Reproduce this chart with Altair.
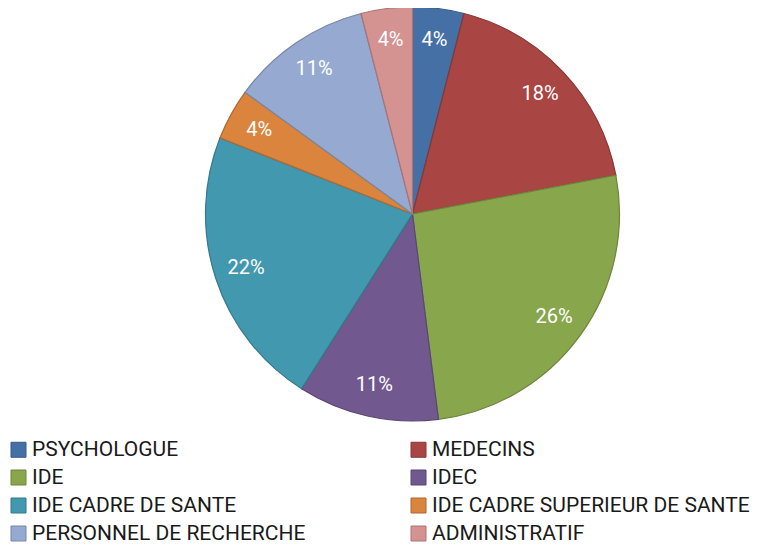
import altair as alt
import pandas as pd

categories = ["PSYCHOLOGUE", "MEDECINS", "IDE", "IDEC", "IDE CADRE DE SANTE",
              "IDE CADRE SUPERIEUR DE SANTE", "PERSONNEL DE RECHERCHE", "ADMINISTRATIF"]
values = [4, 18, 26, 11, 22, 4, 11, 4]
labels = ["4%", "18%", "26%", "11%", "22%", "4%", "11%", "4%"]
fills = ["#4470A6", "#A94543", "#88A64C", "#71598F", "#4198AF", "#DA843E", "#95A9D1", "#D49291"]
strokes = ["#365A86", "#873735", "#6D853D", "#5A4772", "#34798C", "#AE6931", "#7787A7", "#A97474"]

df = pd.DataFrame({"cat": categories, "val": values, "lab": labels,
                   "idx": list(range(len(categories)))})

cx, cy, R = 404.5, 206, 207

base = alt.Chart(df).encode(
    theta=alt.Theta("val:Q", stack=True),
    order=alt.Order("idx:Q"),
)

arcs = base.mark_arc(strokeWidth=1.2).encode(
    x=alt.value(cx), y=alt.value(cy),
    radius=alt.value(R),
    color=alt.Color("cat:N", sort=categories,
                    scale=alt.Scale(domain=categories, range=fills),
                    legend=alt.Legend(
                        title=None, orient="none", legendX=0, legendY=431,
                        direction="horizontal",
                        columns=2, columnPadding=102, rowPadding=6,
                        symbolType="square", symbolSize=225, symbolStrokeWidth=1,
                        labelFont="Roboto", labelFontSize=21,
                        labelColor="#1a1a1a", labelOffset=3, labelLimit=400)),
    stroke=alt.Stroke("cat:N", scale=alt.Scale(domain=categories, range=strokes), legend=None),
)

text = base.mark_text(font="Roboto", fontSize=20, color="white").encode(
    x=alt.value(cx), y=alt.value(cy),
    radius=alt.value(175),
    text="lab:N",
)

chart = alt.layer(arcs, text).properties(
    width=759, height=536, padding=0,
    autosize=alt.AutoSizeParams(type="none"),
).configure_view(stroke=None)

chart.save("out.html", embed_options={"renderer": "svg", "actions": False})
